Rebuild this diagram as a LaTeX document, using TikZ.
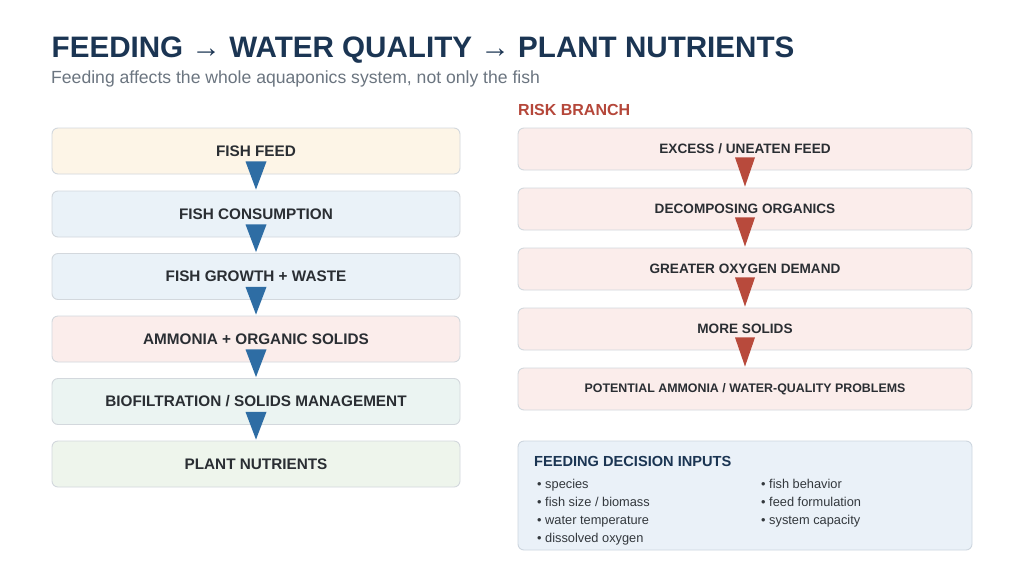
\documentclass[tikz,border=0pt]{standalone}
\usepackage{fontspec}
\setmainfont{Liberation Sans}
\usetikzlibrary{positioning,calc}
\definecolor{navy}{HTML}{1B3553}
\definecolor{subgray}{HTML}{6B7580}
\definecolor{boxtext}{HTML}{2A2E33}
\definecolor{edge}{HTML}{D3D8DD}
\definecolor{cream}{HTML}{FDF5E7}
\definecolor{lblue}{HTML}{EAF2F8}
\definecolor{lpink}{HTML}{FBEDEB}
\definecolor{lteal}{HTML}{EBF4F2}
\definecolor{lgreen}{HTML}{EEF5EC}
\definecolor{arrblue}{HTML}{2E6DA4}
\definecolor{arrred}{HTML}{B84A3C}
\definecolor{riskred}{HTML}{B5473A}
\definecolor{inbox}{HTML}{EAF1F8}
\definecolor{inedge}{HTML}{CDD6DF}
\definecolor{bullettext}{HTML}{33383D}
\newcommand{\tarr}{{\mdseries →}}
\begin{document}
\begin{tikzpicture}[x=1pt,y=-1pt,
  lbox/.style={draw=edge,line width=0.9pt,rounded corners=6pt,minimum width=408pt,minimum height=46pt,inner sep=0pt,font=\fontsize{15.3}{17}\selectfont\bfseries,text=boxtext},
  rbox/.style={draw=edge,line width=0.9pt,rounded corners=6pt,minimum width=454pt,minimum height=42pt,inner sep=0pt,font=\fontsize{13.6}{15}\selectfont\bfseries,text=boxtext,fill=lpink},
  bul/.style={anchor=base west,font=\fontsize{12.8}{14}\selectfont,text=bullettext,inner sep=0pt}]
\useasboundingbox[fill=white] (0,0) rectangle (1024,576);
% title
\node[anchor=base west,inner sep=0pt,text=navy,font=\fontsize{29.6}{34}\selectfont\bfseries] (title) at (51.5,57) {FEEDING \tarr{} WATER QUALITY \tarr{} PLANT NUTRIENTS};
\node[anchor=base west,inner sep=0pt,text=subgray,font=\fontsize{17.6}{20}\selectfont] (sub) at (51,83) {Feeding affects the whole aquaponics system, not only the fish};
% left column
\node[lbox,fill=cream] (a1) at (256,151) {FISH FEED};
\node[lbox,fill=lblue] (a2) at (256,214) {FISH CONSUMPTION};
\node[lbox,fill=lblue] (a3) at (256,276.5) {FISH GROWTH + WASTE};
\node[lbox,fill=lpink] (a4) at (256,339) {AMMONIA + ORGANIC SOLIDS};
\node[lbox,fill=lteal] (a5) at (256,401.5) {BIOFILTRATION / SOLIDS MANAGEMENT};
\node[lbox,fill=lgreen] (a6) at (256,464) {PLANT NUTRIENTS};
\foreach \p/\q in {a1/a2,a2/a3,a3/a4,a4/a5,a5/a6}{
  \fill[arrblue] ([xshift=-10.5pt,yshift=13pt]\p.south) -- ([xshift=10.5pt,yshift=13pt]\p.south) -- ([yshift=1pt]\q.north) -- cycle;
}
% risk branch
\node[anchor=base west,inner sep=0pt,text=riskred,font=\fontsize{16}{18}\selectfont\bfseries] (risk) at (518,115) {RISK BRANCH};
\node[rbox] (b1) at (745,149) {EXCESS / UNEATEN FEED};
\node[rbox] (b2) at (745,209) {DECOMPOSING ORGANICS};
\node[rbox] (b3) at (745,269) {GREATER OXYGEN DEMAND};
\node[rbox] (b4) at (745,329) {MORE SOLIDS};
\node[rbox,font=\fontsize{12.4}{14}\selectfont\bfseries] (b5) at (745,389) {POTENTIAL AMMONIA / WATER-QUALITY PROBLEMS};
\foreach \p/\q in {b1/b2,b2/b3,b3/b4,b4/b5}{
  \fill[arrred] ([xshift=-10pt,yshift=13pt]\p.south) -- ([xshift=10pt,yshift=13pt]\p.south) -- ([yshift=1pt]\q.north) -- cycle;
}
% decision inputs
\node[draw=inedge,line width=0.9pt,rounded corners=6pt,fill=inbox,minimum width=454pt,minimum height=109pt,inner sep=0pt] (inp) at (745,495.5) {};
\node[anchor=base west,inner sep=0pt,text=navy,font=\fontsize{14.6}{18}\selectfont\bfseries] (inpt) at (534,466.5) {FEEDING DECISION INPUTS};
\node[bul] (l1) at (537,488.5) {• species};
\node[bul] (l2) at (537,506.5) {• fish size / biomass};
\node[bul] (l3) at (537,524.5) {• water temperature};
\node[bul] (l4) at (537,542.5) {• dissolved oxygen};
\node[bul] (r1) at (761,488.5) {• fish behavior};
\node[bul] (r2) at (761,506.5) {• feed formulation};
\node[bul] (r3) at (761,524.5) {• system capacity};
\end{tikzpicture}
\end{document}
